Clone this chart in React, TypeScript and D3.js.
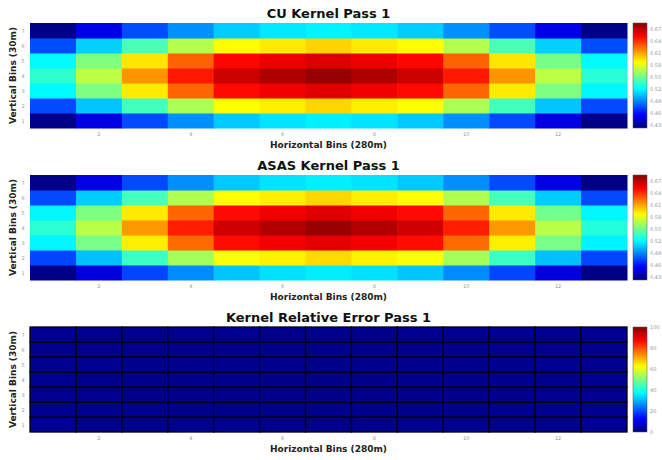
import React from "react";
import * as d3 from "d3";

const cols = d3.range(1, 14);
const rows = d3.range(1, 8);
const xTicks = [2, 4, 6, 8, 10, 12];
const yTicks = [1, 2, 3, 4, 5, 6, 7];

// rows indexed by vertical bin 1..7 (bottom to top)
const cuValues = [
  [0.425, 0.448, 0.474, 0.492, 0.507, 0.514, 0.517, 0.514, 0.507, 0.492, 0.474, 0.448, 0.425],
  [0.474, 0.506, 0.538, 0.565, 0.586, 0.591, 0.597, 0.591, 0.586, 0.565, 0.538, 0.506, 0.474],
  [0.520, 0.553, 0.592, 0.626, 0.650, 0.656, 0.660, 0.656, 0.650, 0.626, 0.592, 0.553, 0.519],
  [0.533, 0.569, 0.614, 0.646, 0.665, 0.673, 0.679, 0.673, 0.665, 0.646, 0.614, 0.569, 0.531],
  [0.520, 0.554, 0.593, 0.627, 0.651, 0.657, 0.661, 0.657, 0.651, 0.627, 0.593, 0.551, 0.520],
  [0.475, 0.509, 0.540, 0.567, 0.587, 0.592, 0.598, 0.592, 0.587, 0.567, 0.540, 0.509, 0.475],
  [0.425, 0.449, 0.475, 0.493, 0.508, 0.515, 0.518, 0.515, 0.508, 0.493, 0.475, 0.449, 0.425],
];
const asasValues = [
  [0.425, 0.447, 0.473, 0.491, 0.506, 0.513, 0.516, 0.513, 0.506, 0.491, 0.473, 0.447, 0.424],
  [0.473, 0.505, 0.536, 0.563, 0.585, 0.590, 0.596, 0.590, 0.585, 0.563, 0.536, 0.505, 0.473],
  [0.519, 0.552, 0.591, 0.625, 0.649, 0.655, 0.659, 0.655, 0.649, 0.625, 0.591, 0.552, 0.518],
  [0.532, 0.568, 0.613, 0.645, 0.664, 0.672, 0.678, 0.672, 0.664, 0.645, 0.613, 0.568, 0.530],
  [0.519, 0.553, 0.592, 0.626, 0.650, 0.656, 0.660, 0.656, 0.650, 0.626, 0.592, 0.550, 0.519],
  [0.474, 0.508, 0.539, 0.566, 0.586, 0.591, 0.597, 0.591, 0.586, 0.566, 0.539, 0.508, 0.474],
  [0.425, 0.448, 0.474, 0.492, 0.507, 0.514, 0.517, 0.514, 0.507, 0.492, 0.474, 0.448, 0.424],
];
const errValues = [
  [1.6, 1.5, 1.5, 1.4, 1.4, 1.3, 1.3, 1.3, 1.4, 1.4, 1.5, 1.5, 1.6],
  [1.5, 1.4, 1.4, 1.3, 1.3, 1.2, 1.2, 1.2, 1.3, 1.3, 1.4, 1.4, 1.5],
  [1.4, 1.4, 1.3, 1.3, 1.2, 1.2, 1.1, 1.2, 1.2, 1.3, 1.3, 1.4, 1.4],
  [1.4, 1.3, 1.3, 1.2, 1.2, 1.1, 1.1, 1.1, 1.2, 1.2, 1.3, 1.3, 1.4],
  [1.4, 1.4, 1.3, 1.3, 1.2, 1.2, 1.1, 1.2, 1.2, 1.3, 1.3, 1.4, 1.4],
  [1.5, 1.4, 1.4, 1.3, 1.3, 1.2, 1.2, 1.2, 1.3, 1.3, 1.4, 1.4, 1.5],
  [1.6, 1.5, 1.5, 1.4, 1.4, 1.3, 1.3, 1.3, 1.4, 1.4, 1.5, 1.5, 1.6],
];

const kernelTicks = [0.43, 0.46, 0.49, 0.52, 0.55, 0.58, 0.61, 0.64, 0.67];
const kernelTickLabels = ["0.43", "0.46", "0.49", "0.52", "0.55", "0.58", "0.61", "0.64", "0.67"];
const errTicks = [0, 20, 40, 60, 80, 100];
const errTickLabels = ["0", "20", "40", "60", "80", "100"];

const kernelDomain: [number, number] = [0.4225, 0.685];
const errDomain: [number, number] = [0, 100];

function jet(t: number) {
  const c = (v: number) => Math.max(0, Math.min(1, v));
  const r = c(1.5 - Math.abs(4 * t - 3));
  const g = c(1.5 - Math.abs(4 * t - 2));
  const b = c(1.5 - Math.abs(4 * t - 1));
  return d3.rgb(r * 255, g * 255, b * 255).formatHex();
}

const W = 662;
const H = 460;
const X0 = 30;
const X1 = 627;
const PH = 105;
const CBX = 633;
const CBW = 14;
const FONT = "DejaVu Sans, sans-serif";

type PanelProps = {
  id: string;
  top: number;
  title: string;
  values: number[][];
  domain: [number, number];
  ticks: number[];
  tickLabels: string[];
  grid: boolean;
};

function Panel({ id, top, title, values, domain, ticks, tickLabels, grid }: PanelProps) {
  const x = d3.scaleBand<number>().domain(cols).range([X0, X1]);
  const y = d3.scaleBand<number>().domain(rows).range([top + PH, top]);
  const norm = d3.scaleLinear().domain(domain).range([0, 1]).clamp(true);
  const cb = d3.scaleLinear().domain(domain).range([top + PH, top]);
  const stops = d3.range(0, 1.0001, 0.02);
  const midY = top + PH / 2;
  return (
    <g>
      <defs>
        <linearGradient id={id} x1="0" y1="1" x2="0" y2="0">
          {stops.map((s) => (
            <stop key={s} offset={s} stopColor={jet(s)} />
          ))}
        </linearGradient>
      </defs>
      <text x={(X0 + X1) / 2} y={top - 5} textAnchor="middle" fontFamily={FONT} fontWeight="bold" fontSize={13} fill="#111">
        {title}
      </text>
      {values.map((row, ri) =>
        row.map((v, ci) => (
          <rect
            key={`${ri}-${ci}`}
            x={x(cols[ci])!}
            y={y(rows[ri])!}
            width={x.bandwidth() + (grid ? 0 : 0.5)}
            height={y.bandwidth() + (grid ? 0 : 0.5)}
            fill={jet(norm(v))}
            stroke={grid ? "#000" : "none"}
            strokeWidth={grid ? 1.3 : 0}
          />
        ))
      )}
      {xTicks.map((t) => (
        <text key={t} x={x(t)! + x.bandwidth() / 2} y={top + PH + 8} textAnchor="middle" fontFamily={FONT} fontSize={5} fill="#999">
          {t}
        </text>
      ))}
      {yTicks.map((t) => (
        <text key={t} x={23} y={y(t)! + y.bandwidth() / 2 + 2} textAnchor="middle" fontFamily={FONT} fontSize={5} fill="#999">
          {t}
        </text>
      ))}
      <text x={(X0 + X1) / 2} y={top + PH + 20} textAnchor="middle" fontFamily={FONT} fontWeight="bold" fontSize={9} fill="#222">
        Horizontal Bins (280m)
      </text>
      <text
        transform={`translate(16,${midY}) rotate(-90)`}
        textAnchor="middle"
        fontFamily={FONT}
        fontWeight="bold"
        fontSize={9}
        fill="#222"
      >
        Vertical Bins (30m)
      </text>
      <rect x={CBX} y={top} width={CBW} height={PH} fill={`url(#${id})`} stroke="#555" strokeWidth={0.5} />
      {ticks.map((t, i) => (
        <text key={t} x={CBX + CBW + 3} y={cb(t) + 2} fontFamily={FONT} fontSize={5} fill="#999">
          {tickLabels[i]}
        </text>
      ))}
    </g>
  );
}

export default function App() {
  return (
    <svg width={W} height={H} style={{ position: "absolute", left: 0, top: 0, background: "#fff" }}>
      <rect x={0} y={0} width={W} height={H} fill="#fff" />
      <Panel id="g1" top={23} title="CU Kernel Pass 1" values={cuValues} domain={kernelDomain} ticks={kernelTicks} tickLabels={kernelTickLabels} grid={false} />
      <Panel id="g2" top={175} title="ASAS Kernel Pass 1" values={asasValues} domain={kernelDomain} ticks={kernelTicks} tickLabels={kernelTickLabels} grid={false} />
      <Panel id="g3" top={327} title="Kernel Relative Error Pass 1" values={errValues} domain={errDomain} ticks={errTicks} tickLabels={errTickLabels} grid={true} />
    </svg>
  );
}
